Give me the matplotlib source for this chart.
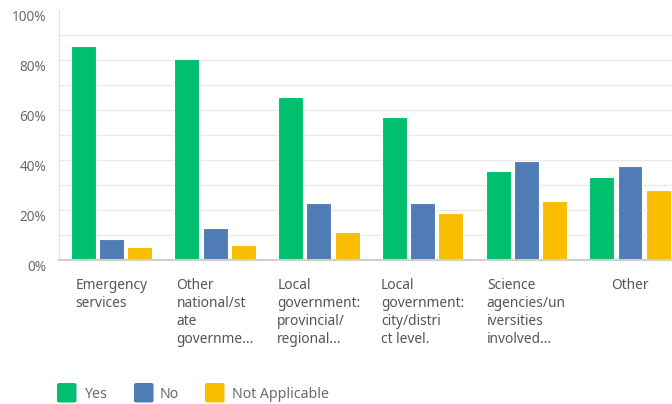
import matplotlib
matplotlib.use("Agg")
import matplotlib.pyplot as plt
import matplotlib.transforms as mtransforms
from matplotlib.patches import FancyBboxPatch
import numpy as np

categories = [
    "Emergency\nservices",
    "Other\nnational/st\nate\ngovernme...",
    "Local\ngovernment:\nprovincial/\nregional...",
    "Local\ngovernment:\ncity/distri\nct level.",
    "Science\nagencies/un\niversities\ninvolved...",
    "Other",
]
series_names = ["Yes", "No", "Not Applicable"]
yes_vals = [85.7, 80.3, 65.2, 57.1, 35.6, 33.1]
no_vals = [8.3, 12.7, 22.7, 22.7, 39.6, 37.6]
na_vals = [5.1, 6.0, 11.1, 18.7, 23.6, 28.1]
colors = ["#00BF6F", "#507CB6", "#F9BE00"]
ytick_vals = [0, 20, 40, 60, 80, 100]
ytick_labels = ["0%", "20%", "40%", "60%", "80%", "100%"]

plt.rcParams["font.family"] = ["Noto Sans", "DejaVu Sans"]

W, H = 672, 404
fig = plt.figure(figsize=(W / 100, H / 100), dpi=100)
left, right_px, top, bottom = 59, 672, 10, 260
ax = fig.add_axes([left / W, (H - bottom) / H, (right_px - left) / W, (bottom - top) / H])

x = np.arange(len(categories))
bw = 0.241
offs = [-0.272, 0.0, 0.272]
for vals, c, o, name in zip([yes_vals, no_vals, na_vals], colors, offs, series_names):
    ax.bar(x + o, vals, width=bw, color=c, edgecolor="white", linewidth=0.8,
           label=name, zorder=3)

ax.set_xlim(-0.506, 5.405)
ax.set_ylim(0, 100)
ax.set_yticks(ytick_vals)
ax.set_yticklabels(ytick_labels)
for g in range(10, 100, 10):
    ax.axhline(g, color="#E9E9E9", linewidth=1, zorder=0)
ax.tick_params(axis="y", which="both", length=0, pad=9, labelsize=9.8, labelcolor="#6B6B6B")
ax.tick_params(axis="x", length=0)
offset = mtransforms.ScaledTranslation(0, -4 / 72, fig.dpi_scale_trans)
for lab in ax.get_yticklabels():
    lab.set_transform(lab.get_transform() + offset)

for s in ["top", "right"]:
    ax.spines[s].set_visible(False)
ax.spines["left"].set_color("#E2E2E2")
ax.spines["bottom"].set_color("#CFCFCF")
ax.spines["bottom"].set_linewidth(1.5)
ax.spines["bottom"].set_zorder(4)

ax.set_xticks(x)
ax.set_xticklabels(categories, fontsize=9.9, color="#555555", linespacing=1.27,
                   ha="center", va="top", multialignment="left")
ax.tick_params(axis="x", pad=13)

# legend
leg_items = [(57, "Yes", 85), (134, "No", 160), (205, "Not Applicable", 232)]
for (sx, name, tx), c in zip(leg_items, colors):
    p = FancyBboxPatch(((sx) / W, (H - 402.5) / H), 19.5 / W, 19.5 / H,
                       boxstyle="round,pad=0,rounding_size=0.004",
                       transform=fig.transFigure, facecolor=c, edgecolor="none")
    fig.patches.append(p)
    fig.text(tx / W, (H - 394) / H, name, fontsize=10.2, color="#6B6B6B", va="center", ha="left")

fig.savefig("out.png", dpi=100)
